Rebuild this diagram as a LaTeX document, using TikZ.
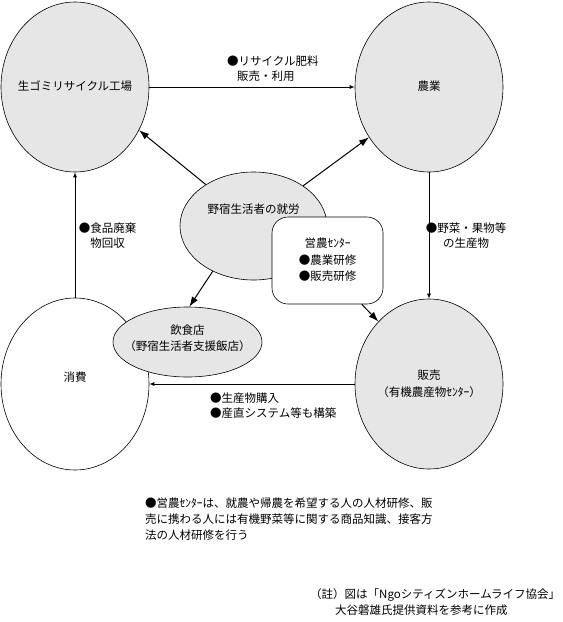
\documentclass[tikz,border=0pt]{standalone}
\usepackage{fontspec}
\setmainfont{Noto Sans CJK JP}
\usetikzlibrary{shapes.geometric,arrows.meta}
\definecolor{fillgray}{RGB}{230,230,230}
\tikzset{
  circ/.style={ellipse, draw, line width=0.6pt, fill=fillgray, inner sep=0pt},
  lbl/.style={font=\fontsize{11.5}{15}\selectfont, inner sep=0pt, align=center},
  lbll/.style={font=\fontsize{11.5}{15}\selectfont, inner sep=0pt, align=left},
  flow/.style={line width=0.8pt, -{Latex[length=5pt,width=4pt]}},
  bigflow/.style={line width=1pt, -{Latex[length=10pt,width=7pt]}},
}
\begin{document}
\begin{tikzpicture}[x=1pt,y=-1pt]
\useasboundingbox (0,0) rectangle (563,622);
% main circles
\node[circ, minimum width=148pt, minimum height=170pt] (A) at (75,87) {};
\node[circ, minimum width=148pt, minimum height=170pt] (B) at (429,87) {};
\node[circ, fill=white, minimum width=148pt, minimum height=172pt] (C) at (75,384) {};
\node[circ, minimum width=148pt, minimum height=170pt] (D) at (429,384) {};
% central ellipse and centre box
\node[circ, minimum width=147pt, minimum height=108pt] (E) at (253.5,226) {};
\node[draw, line width=0.6pt, fill=white, rounded corners=16pt, minimum width=111pt, minimum height=87pt, inner sep=0pt] (F) at (327.5,260.5) {};
\node[circ, minimum width=149pt, minimum height=70pt] (G) at (187.5,342) {};
% texts
\node[lbl] (tA) at (75,86) {生ゴミリサイクル工場};
\node[lbl] (tB) at (429,86) {農業};
\node[lbl] (tC) at (75,377) {消費};
\node[lbl, font=\fontsize{11.5}{17}\selectfont] (tD) at (429,384) {販売\\（有機農産物ｾﾝﾀｰ）};
\node[lbl] (tE) at (253.5,209) {野宿生活者の就労};
\node[lbl, font=\fontsize{11.5}{16.5}\selectfont] (tF) at (327.5,260) {営農ｾﾝﾀｰ\\●農業研修\\●販売研修};
\node[lbl, font=\fontsize{11.5}{15.5}\selectfont] (tG) at (187.5,338) {飲食店\\（野宿生活者支援飯店）};
% connectors
\draw[flow] (A.east) -- (B.west);
\draw[flow] (B.south) -- (D.north);
\draw[flow] (C.north) -- (A.south);
\draw[flow] (D.west) -- (C.east);
\draw[bigflow] (E.139) -- (A.326);
\draw[bigflow] (E.39) -- (B.220);
\draw[bigflow] (E.228) -- (G.87);
\draw[bigflow] (F.-52) -- (D.129);
% connector labels
\node[lbll, anchor=west] (l1) at (227,61) {●リサイクル肥料};
\node[lbll, anchor=west] (l2) at (237,76) {販売・利用};
\node[lbl] (l3) at (107.5,236) {●食品廃棄\\物回収};
\node[lbl] (l4) at (466,236) {●野菜・果物等\\の生産物};
\node[lbll, anchor=west] (l5) at (210,398) {●生産物購入};
\node[lbll, anchor=west] (l6) at (210,413) {●産直システム等も構築};
% notes
\node[lbll, anchor=west] (n1) at (145,503) {●営農ｾﾝﾀｰは、就農や帰農を希望する人の人材研修、販};
\node[lbll, anchor=west] (n2) at (145,519) {売に携わる人には有機野菜等に関する商品知識、接客方};
\node[lbll, anchor=west] (n3) at (145,535) {法の人材研修を行う};
\node[lbll, anchor=west] (n4) at (310,595) {（註）図は「Ngoシティズンホームライフ協会」};
\node[lbll, anchor=west] (n5) at (335,610) {大谷磐雄氏提供資料を参考に作成};
\end{tikzpicture}
\end{document}
